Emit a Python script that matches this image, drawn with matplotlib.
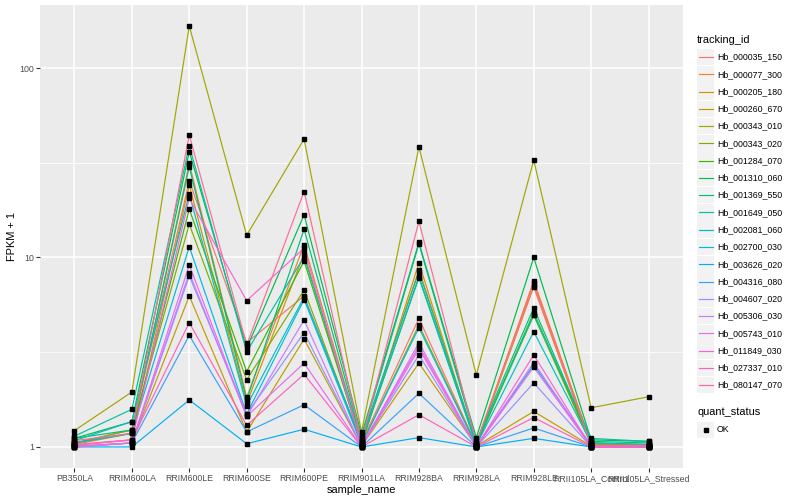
import matplotlib
matplotlib.use("Agg")
import matplotlib.pyplot as plt
from matplotlib.lines import Line2D
from matplotlib.patches import Rectangle
import numpy as np

plt.rcParams['font.family'] = ['Liberation Sans', 'DejaVu Sans']

samples = ["PB350LA", "RRIM600LA", "RRIM600LE", "RRIM600SE", "RRIM600PE",
           "RRIM901LA", "RRIM928BA", "RRIM928LA", "RRIM928LE",
           "RRII105LA_Control", "RRII105LA_Stressed"]

tracking_ids = ["Hb_000035_150", "Hb_000077_300", "Hb_000205_180", "Hb_000260_670",
                "Hb_000343_010", "Hb_000343_020", "Hb_001284_070", "Hb_001310_060",
                "Hb_001369_550", "Hb_001649_050", "Hb_002081_060", "Hb_002700_030",
                "Hb_003626_020", "Hb_004316_080", "Hb_004607_020", "Hb_005306_030",
                "Hb_005743_010", "Hb_011849_030", "Hb_027337_010", "Hb_080147_070"]

colors = ["#F8766D", "#EA8331", "#D89000", "#C09B00", "#A3A500", "#7CAE00",
          "#39B600", "#00BB4E", "#00BF7D", "#00C1A3", "#00BFC4", "#00BAE0",
          "#00B0F6", "#35A2FF", "#9590FF", "#C77CFF", "#E76BF3", "#FA62DB",
          "#FF62BC", "#FF6C91"]

# FPKM + 1 per tracking id, in sample order
hb_000035_150 = [1.05, 1.23, 25.4, 3.55, 6.26, 1.05, 4.78, 1.02, 7.54, 1.05, 1.01]
hb_000077_300 = [1.03, 1.18, 31.4, 1.83, 11.7, 1.07, 8.6, 1.05, 7.36, 1.05, 1.02]
hb_000205_180 = [1.02, 1.09, 24.1, 1.70, 10.5, 1.02, 9.39, 1.02, 7.01, 1.02, 1.01]
hb_000260_670 = [1.01, 1.05, 6.27, 1.20, 3.71, 1.01, 2.77, 1.01, 1.54, 1.01, 1.00]
hb_000343_010 = [1.22, 1.95, 166.6, 13.1, 42.2, 1.20, 38.3, 2.40, 32.7, 1.61, 1.84]
hb_000343_020 = [1.05, 1.23, 15.0, 2.26, 6.74, 1.03, 4.4, 1.02, 4.97, 1.03, 1.02]
hb_001284_070 = [1.05, 1.18, 18.0, 2.50, 9.59, 1.05, 7.92, 1.03, 5.12, 1.05, 1.03]
hb_001310_060 = [1.11, 1.36, 36.2, 3.32, 16.8, 1.16, 12.0, 1.12, 10.0, 1.09, 1.07]
hb_001369_550 = [1.11, 1.23, 30.1, 1.77, 14.1, 1.11, 11.8, 1.07, 5.43, 1.07, 1.05]
hb_001649_050 = [1.14, 1.58, 38.9, 3.18, 10.1, 1.11, 8.42, 1.05, 4.97, 1.11, 1.07]
hb_002081_060 = [1.08, 1.36, 21.6, 1.65, 6.17, 1.07, 7.8, 1.02, 4.06, 1.05, 1.03]
hb_002700_030 = [1.05, 1.18, 11.4, 1.49, 6.0, 1.03, 4.26, 1.01, 2.71, 1.02, 1.01]
hb_003626_020 = [1.00, 1.00, 1.77, 1.04, 1.24, 1.00, 1.12, 1.00, 1.11, 1.00, 1.00]
hb_004316_080 = [1.00, 1.05, 3.88, 1.20, 1.67, 1.00, 1.92, 1.00, 1.26, 1.00, 1.00]
hb_004607_020 = [1.00, 1.05, 8.0, 1.49, 4.01, 1.01, 3.06, 1.00, 2.18, 1.00, 1.00]
hb_005306_030 = [1.00, 1.05, 8.31, 1.45, 4.68, 1.00, 3.55, 1.00, 2.79, 1.00, 1.00]
hb_005743_010 = [1.00, 1.05, 9.13, 1.45, 2.77, 1.00, 3.3, 1.00, 2.64, 1.00, 1.00]
hb_011849_030 = [1.02, 1.09, 20.5, 5.92, 11.2, 1.02, 3.41, 1.00, 3.06, 1.00, 1.00]
hb_027337_010 = [1.03, 1.09, 4.53, 1.30, 2.42, 1.00, 1.48, 1.00, 1.43, 1.00, 1.00]
hb_080147_070 = [1.08, 1.18, 44.3, 3.45, 22.3, 1.07, 15.5, 1.05, 7.07, 1.02, 1.02]

series_values = [hb_000035_150, hb_000077_300, hb_000205_180, hb_000260_670,
                 hb_000343_010, hb_000343_020, hb_001284_070, hb_001310_060,
                 hb_001369_550, hb_001649_050, hb_002081_060, hb_002700_030,
                 hb_003626_020, hb_004316_080, hb_004607_020, hb_005306_030,
                 hb_005743_010, hb_011849_030, hb_027337_010, hb_080147_070]

fig = plt.figure(figsize=(8, 5), dpi=100)
ax = fig.add_axes([40/800, 1-468/500, (683-40)/800, (468-5)/500])
ax.set_facecolor("#EBEBEB")

x = np.arange(len(samples))
for vals, col in zip(series_values, colors):
    ax.plot(x, vals, color=col, lw=0.85, zorder=3, solid_capstyle='round')
for vals in series_values:
    ax.plot(x, vals, linestyle='none', marker='s', ms=3.0, color='black', zorder=4)

ax.set_yscale('log')
lo = np.log10(1.0); hi = np.log10(max(max(v) for v in series_values))
pad = (hi - lo) * 0.05
ax.set_ylim(10**(lo - pad), 10**(hi + pad))
ax.set_xlim(-0.6, len(samples) - 1 + 0.6)

ax.set_yticks([1, 10, 100])
ax.set_yticklabels(["1", "10", "100"])
ax.set_yticks([10**0.5, 10**1.5], minor=True)
ax.yaxis.set_minor_formatter(plt.NullFormatter())
ax.set_xticks(x)
ax.set_xticklabels(samples)

ax.grid(True, which='major', color='white', lw=1.1, zorder=0)
ax.grid(True, which='minor', axis='y', color='white', lw=0.55, zorder=0)
ax.set_axisbelow(True)
for s in ax.spines.values():
    s.set_visible(False)
ax.tick_params(axis='both', which='major', length=2.8, width=0.8, color='#333333',
               labelsize=6.3, labelcolor='#4D4D4D', pad=1.5)
ax.tick_params(axis='y', which='minor', length=0)

ax.set_xlabel("sample_name", fontsize=7.9, color='black', labelpad=1.5)
ax.set_ylabel("FPKM + 1", fontsize=7.9, color='black', labelpad=1.5)

# Legend (ggplot style)
W, H = 800, 500
def fx(px): return px / W
def fy(py): return 1 - py / H

fig.text(fx(697), fy(40), "tracking_id", fontsize=7.9, va='center', ha='left')
step = 17.27
y0 = 57
for i, (tid, col) in enumerate(zip(tracking_ids, colors)):
    yc = y0 + i * step
    fig.add_artist(Rectangle((fx(697), fy(yc + 8.3)), 17/W, 16.6/H,
                             facecolor='#F2F2F2', edgecolor='none', transform=fig.transFigure))
    fig.add_artist(Line2D([fx(698.5), fx(712.5)], [fy(yc), fy(yc)], color=col, lw=0.85,
                          transform=fig.transFigure))
    fig.text(fx(717), fy(yc), tid, fontsize=6.3, va='center', ha='left', color='black')

fig.text(fx(697), fy(412), "quant_status", fontsize=7.9, va='center', ha='left')
yc = 430
fig.add_artist(Rectangle((fx(697), fy(yc + 8.3)), 17/W, 16.6/H,
                         facecolor='#F2F2F2', edgecolor='none', transform=fig.transFigure))
fig.add_artist(Line2D([fx(705.5)], [fy(yc)], marker='s', ms=3.0, color='black',
                      linestyle='none', transform=fig.transFigure))
fig.text(fx(717), fy(yc), "OK", fontsize=6.3, va='center', ha='left', color='black')

fig.savefig("out.png", dpi=100, facecolor='white')
